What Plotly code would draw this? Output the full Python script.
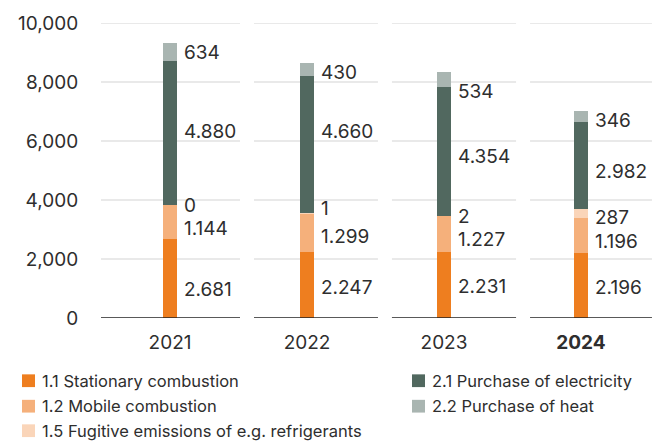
import plotly.graph_objects as go

years = ["2021", "2022", "2023", "2024"]
tick_text = ["2021", "2022", "2023", "<b>2024</b>"]
series_names = [
    "1.1 Stationary combustion",
    "1.2 Mobile combustion",
    "1.5 Fugitive emissions of e.g. refrigerants",
    "2.1 Purchase of electricity",
    "2.2 Purchase of heat",
]
stationary = [2681, 2247, 2231, 2196]
mobile = [1144, 1299, 1227, 1196]
fugitive = [0, 1, 2, 287]
electricity = [4880, 4660, 4354, 2982]
heat = [634, 430, 534, 346]
label_text = {
    0: ["2.681", "2.247", "2.231", "2.196"],
    1: ["1.144", "1.299", "1.227", "1.196"],
    2: ["0", "1", "2", "287"],
    3: ["4.880", "4.660", "4.354", "2.982"],
    4: ["634", "430", "534", "346"],
}
y_ticks = [0, 2000, 4000, 6000, 8000, 10000]

colors = ["#EE7E1F", "#F5B07B", "#FAD5B9", "#51685F", "#A9B5B1"]
values = [stationary, mobile, fugitive, electricity, heat]

# label vertical nudges (px) relative to segment middle
label_shift = {
    0: [-11, -2.5, -1.3, -1.7],
    1: [-6, -4, -5.5, -5.5],
    2: [0, 4.5, -0.5, -3.5],
    3: [2, 13, -4.4, -6],
    4: [-1, -3, -12, -4.5],
}

W, H = 666, 445
L, R, T, B = 101, 14, 17, 127
plot_w = W - L - R
plot_h = H - T - B
px_per_unit = 137
xmin = -(170 - L) / px_per_unit
xmax = xmin + plot_w / px_per_unit
bar_w = 14 / px_per_unit

font_fam = "Inter, Roboto, sans-serif"
text_col = "#2e2e2e"

fig = go.Figure()
xs = list(range(len(years)))
for i, (name, vals, c) in enumerate(zip(series_names, values, colors)):
    fig.add_trace(go.Bar(x=xs, y=vals, name=name, marker=dict(color=c, line=dict(width=0)),
                         width=bar_w, showlegend=False, hoverinfo="y+name"))

# panel gridlines
panel_left = [-0.504, -0.387, -0.38, -0.372]
panel_right = [0.511, 0.518, 0.526, 0.518]
shapes = []
for j in xs:
    for yt in y_ticks:
        if yt == 0:
            continue
        shapes.append(dict(type="line", xref="x", yref="y", x0=j + panel_left[j], x1=j + panel_right[j],
                           y0=yt, y1=yt, line=dict(color="#e2e2e2", width=1.3), layer="below"))
    shapes.append(dict(type="line", xref="x", yref="y", x0=j + panel_left[j], x1=j + panel_right[j],
                       y0=0, y1=0, line=dict(color="#222222", width=1.5), layer="above"))

annotations = []
for j in xs:
    cum = 0
    for s in range(5):
        v = values[s][j]
        mid = cum + v / 2
        cum += v
        annotations.append(dict(x=j + bar_w / 2, y=mid, xref="x", yref="y", text=label_text[s][j],
                                showarrow=False, xanchor="left", yanchor="middle", xshift=5,
                                yshift=label_shift[s][j],
                                font=dict(family=font_fam, size=19, color=text_col)))

# manual legend
legend_items = [
    (0, 22, 382), (1, 22, 408), (2, 22, 433),
    (3, 412, 382), (4, 412, 408),
]
def px_to_paper_x(px):
    return (px - L) / plot_w
def px_to_paper_y(py):
    return (H - B - py) / plot_h
for s, lx, ly in legend_items:
    shapes.append(dict(type="rect", xref="paper", yref="paper",
                       x0=px_to_paper_x(lx), x1=px_to_paper_x(lx + 13),
                       y0=px_to_paper_y(ly + 6.5), y1=px_to_paper_y(ly - 6.5),
                       fillcolor=colors[s], line=dict(width=0)))
    annotations.append(dict(x=px_to_paper_x(lx + 18), y=px_to_paper_y(ly), xref="paper", yref="paper",
                            text=series_names[s], showarrow=False, xanchor="left", yanchor="middle",
                            font=dict(family=font_fam, size=16.5, color=text_col)))

fig.update_layout(
    width=W, height=H,
    margin=dict(l=L, r=R, t=T, b=B, pad=0),
    barmode="stack",
    plot_bgcolor="white", paper_bgcolor="white",
    shapes=shapes, annotations=annotations,
    showlegend=False,
    xaxis=dict(range=[xmin, xmax], tickmode="array", tickvals=xs, ticktext=tick_text,
               showgrid=False, zeroline=False, showline=False,
               ticks="outside", ticklen=7, tickcolor="rgba(0,0,0,0)",
               tickfont=dict(family=font_fam, size=19, color=text_col), fixedrange=True),
    yaxis=dict(range=[0, 10000], tickmode="array", tickvals=y_ticks, tickformat=",d",
               showgrid=False, zeroline=False, showline=False,
               ticks="outside", ticklen=18, tickcolor="rgba(0,0,0,0)",
               tickfont=dict(family=font_fam, size=19, color=text_col), fixedrange=True),
)

fig.write_html("out.html", config={"displayModeBar": False})
